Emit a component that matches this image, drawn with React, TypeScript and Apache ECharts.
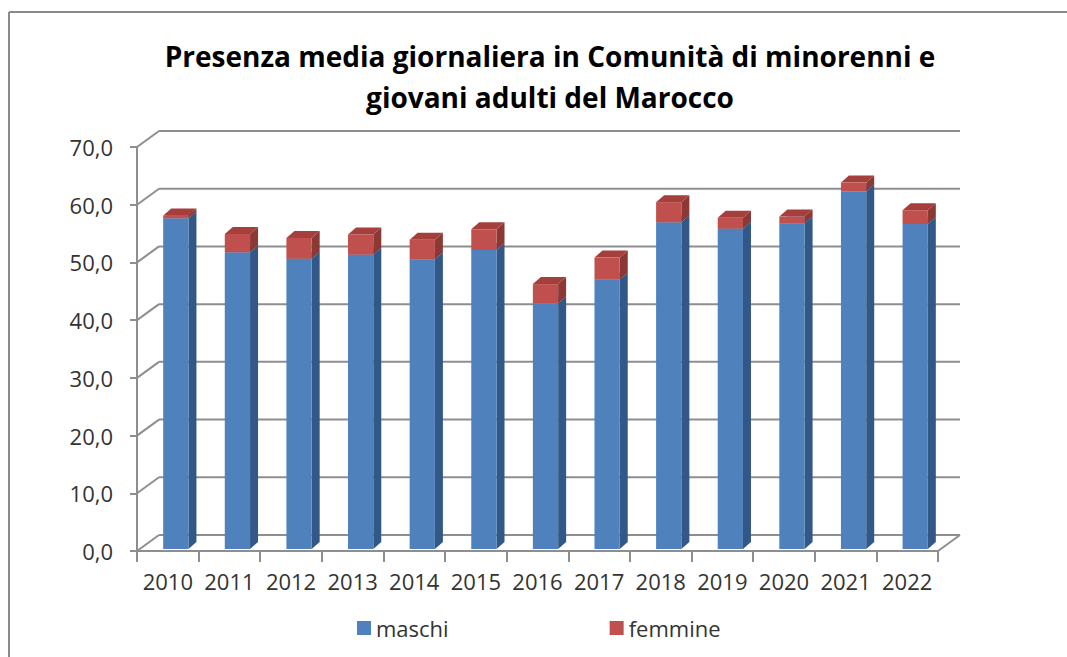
import React, { useEffect, useRef } from "react";
import * as echarts from "echarts";

const years = ["2010", "2011", "2012", "2013", "2014", "2015", "2016", "2017", "2018", "2019", "2020", "2021", "2022"];
const maschi = [57.3, 51.4, 50.3, 51.0, 50.2, 51.8, 42.6, 46.7, 56.6, 55.5, 56.4, 62.0, 56.3];
const femmine = [0.5, 3.2, 3.6, 3.5, 3.4, 3.6, 3.3, 3.8, 3.5, 1.9, 1.2, 1.5, 2.4];
const yTicks = [0, 10, 20, 30, 40, 50, 60, 70];

const WALL_DX = 22;
const WALL_DY = -16;
const BAR_SHIFT_X = 8;
const BAR_SHIFT_Y = -2;
const BAR_DX = 8;
const BAR_DY = -7;
const FONT = "'Open Sans', 'Noto Sans', sans-serif";

function barRenderer(front: string, side: string, top: string) {
  return (params: any, api: any) => {
    const i = api.value(0);
    const lo = api.value(1);
    const hi = api.value(2);
    const p0 = api.coord([i, lo]);
    const p1 = api.coord([i, hi]);
    const band = api.size([1, 0])[0];
    const w = band * 0.41;
    const cx = p0[0] + BAR_SHIFT_X;
    const x0 = cx - w / 2;
    const x1 = cx + w / 2;
    const yb = p0[1] + BAR_SHIFT_Y;
    const yt = p1[1] + BAR_SHIFT_Y;
    return {
      type: "group",
      children: [
        {
          type: "polygon",
          shape: { points: [[x1, yb], [x1 + BAR_DX, yb + BAR_DY], [x1 + BAR_DX, yt + BAR_DY], [x1, yt]] },
          style: { fill: side },
        },
        {
          type: "polygon",
          shape: { points: [[x0, yt], [x1, yt], [x1 + BAR_DX, yt + BAR_DY], [x0 + BAR_DX, yt + BAR_DY]] },
          style: { fill: top },
        },
        {
          type: "rect",
          shape: { x: x0, y: yt, width: w, height: yb - yt },
          style: { fill: front },
        },
      ],
    };
  };
}

export default function App() {
  const ref = useRef<HTMLDivElement>(null);
  useEffect(() => {
    if (!ref.current) return;
    const chart = echarts.init(ref.current, undefined, { renderer: "svg" });
    const maschiData = years.map((_, i) => [i, 0, maschi[i]]);
    const femmineData = years.map((_, i) => [i, maschi[i], maschi[i] + femmine[i]]);
    const wallData = yTicks.map((v) => [0, v]);
    chart.setOption({
      animation: false,
      backgroundColor: "#ffffff",
      title: {
        text: "Presenza media giornaliera in Comunità di minorenni e\ngiovani adulti del Marocco",
        left: 545,
        top: 30,
        textAlign: "center",
        textStyle: { fontFamily: FONT, fontSize: 28, fontWeight: "bold", color: "#000", lineHeight: 41 },
      },
      legend: {
        data: ["maschi", "femmine"],
        top: 612,
        left: 352,
        itemWidth: 14,
        itemHeight: 14,
        itemGap: 161,
        icon: "rect",
        textStyle: { fontFamily: FONT, fontSize: 22, color: "#333" },
      },
      grid: { left: 137, right: 129, top: 147, bottom: 106, containLabel: false },
      xAxis: {
        type: "category",
        data: years,
        boundaryGap: true,
        axisLine: { show: true, lineStyle: { color: "#8E8E8E", width: 2 } },
        axisTick: { show: true, length: 11, interval: 0, lineStyle: { color: "#8E8E8E", width: 2 } },
        axisLabel: { fontFamily: FONT, fontSize: 22, color: "#333", margin: 19, interval: 0 },
      },
      yAxis: {
        type: "value",
        min: 0,
        max: 70,
        interval: 10,
        axisLine: { show: true, lineStyle: { color: "#8E8E8E", width: 2 } },
        axisTick: { show: true, length: 7, lineStyle: { color: "#8E8E8E", width: 2 } },
        splitLine: { show: false },
        axisLabel: {
          fontFamily: FONT,
          fontSize: 22,
          color: "#333",
          margin: 24,
          formatter: (v: number) => v.toFixed(1).replace(".", ","),
        },
      },
      graphic: [
        { type: "line", shape: { x1: 9, y1: 12, x2: 1067, y2: 12 }, style: { stroke: "#8A8A8A", lineWidth: 2 } },
        { type: "line", shape: { x1: 9, y1: 12, x2: 9, y2: 657 }, style: { stroke: "#8A8A8A", lineWidth: 2 } },
      ],
      series: [
        {
          type: "custom",
          name: "walls",
          silent: true,
          z: 1,
          data: wallData,
          encode: { x: 0, y: 1 },
          renderItem: (params: any, api: any) => {
            const v = api.value(1);
            const y = api.coord([0, v])[1];
            const cs = params.coordSys;
            const left = cs.x;
            const right = cs.x + cs.width;
            const st = { stroke: "#8E8E8E", lineWidth: 2 };
            const children: any[] = [
              { type: "line", shape: { x1: left, y1: y, x2: left + WALL_DX, y2: y + WALL_DY }, style: st },
              { type: "line", shape: { x1: left + WALL_DX, y1: y + WALL_DY, x2: right + WALL_DX, y2: y + WALL_DY }, style: st },
            ];
            if (v === 0) {
              children.push({ type: "line", shape: { x1: right, y1: y, x2: right + WALL_DX, y2: y + WALL_DY }, style: st });
            }
            return { type: "group", children };
          },
        },
        {
          type: "custom",
          name: "maschi",
          z: 2,
          itemStyle: { color: "#4F81BD" },
          data: maschiData,
          encode: { x: 0, y: [1, 2] },
          renderItem: barRenderer("#4F81BD", "#325887", "#5A8CC8"),
        },
        {
          type: "custom",
          name: "femmine",
          z: 3,
          itemStyle: { color: "#C0504D" },
          data: femmineData,
          encode: { x: 0, y: [1, 2] },
          renderItem: barRenderer("#C0504D", "#8C3835", "#A43F3C"),
        },
      ],
    });
    return () => chart.dispose();
  }, []);
  return <div ref={ref} style={{ position: "fixed", left: 0, top: 0, width: 1067, height: 657 }} />;
}
